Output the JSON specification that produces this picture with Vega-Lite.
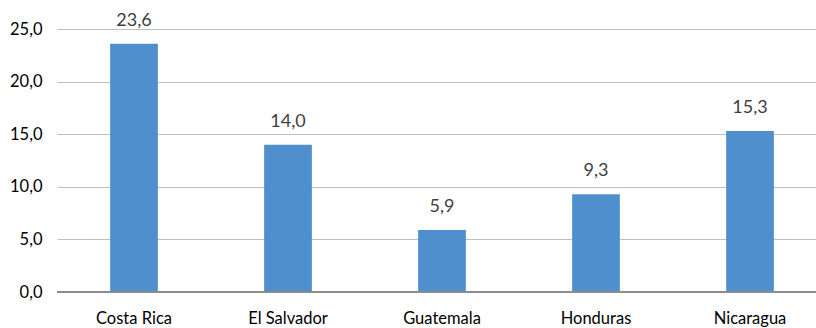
{
  "$schema": "https://vega.github.io/schema/vega-lite/v6.json",
  "width": 770,
  "height": 263,
  "autosize": "none",
  "padding": {"left": 57, "top": 29, "right": 0, "bottom": 36},
  "config": {
    "locale": {"number": {"decimal": ",", "thousands": ".", "grouping": [3], "currency": ["", " €"]}},
    "view": {"stroke": null},
    "font": "Lato"
  },
  "data": {
    "values": [
      {"country": "Costa Rica", "value": 23.6},
      {"country": "El Salvador", "value": 14.0},
      {"country": "Guatemala", "value": 5.9},
      {"country": "Honduras", "value": 9.3},
      {"country": "Nicaragua", "value": 15.3}
    ]
  },
  "encoding": {
    "x": {
      "field": "country", "type": "nominal", "sort": null,
      "scale": {"paddingInner": 0.69, "paddingOuter": 0.345},
      "axis": {"title": null, "labelAngle": 0, "ticks": false, "domain": false, "labelFont": "Lato", "labelFontSize": 16.5, "labelColor": "#000000", "labelPadding": 18}
    },
    "y": {
      "field": "value", "type": "quantitative",
      "scale": {"domain": [0, 25]},
      "axis": {"title": null, "values": [0, 5, 10, 15, 20, 25], "format": ".1f", "ticks": false, "domain": false, "gridColor": "#BFBFBF", "gridWidth": 1, "labelFont": "Lato", "labelFontSize": 16.5, "labelColor": "#000000", "labelPadding": 15}
    }
  },
  "layer": [
    {"mark": {"type": "bar", "color": "#4F8FCE"}},
    {"mark": {"type": "rule", "color": "#8C8C8C", "strokeWidth": 1.5}, "encoding": {"x": null, "y": {"datum": 0, "type": "quantitative"}}},
    {"mark": {"type": "text", "dy": -18, "baseline": "alphabetic", "fontSize": 18, "font": "Lato", "color": "#404040"}, "encoding": {"text": {"field": "value", "type": "quantitative", "format": ".1f"}}}
  ]
}
